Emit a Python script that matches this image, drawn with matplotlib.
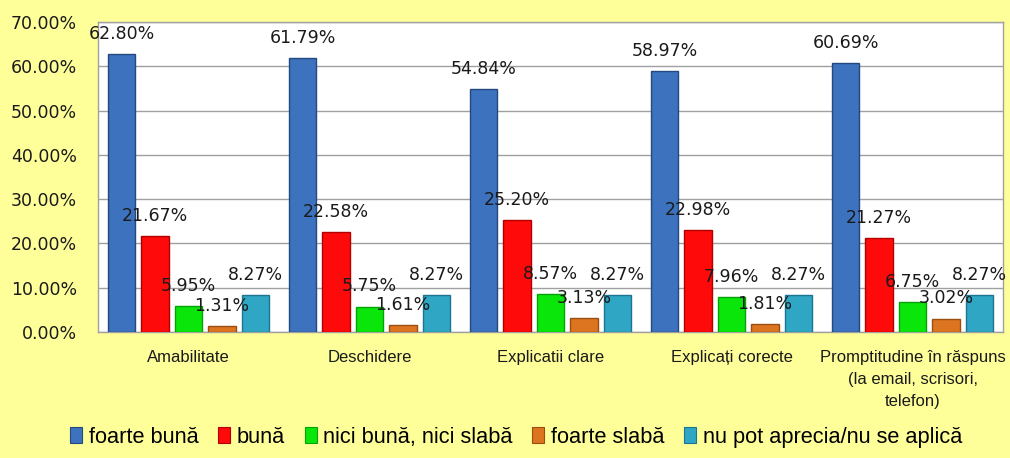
import matplotlib
matplotlib.use("Agg")
import matplotlib.pyplot as plt
import numpy as np
from matplotlib.patches import Patch

categories = ["Amabilitate", "Deschidere", "Explicatii clare", "Explicați corecte",
              "Promptitudine în răspuns\n(la email, scrisori,\ntelefon)"]
series_names = ["foarte bună", "bună", "nici bună, nici slabă", "foarte slabă",
                "nu pot aprecia/nu se aplică"]
foarte_buna = [62.80, 61.79, 54.84, 58.97, 60.69]
buna = [21.67, 22.58, 25.20, 22.98, 21.27]
nici = [5.95, 5.75, 8.57, 7.96, 6.75]
foarte_slaba = [1.31, 1.61, 3.13, 1.81, 3.02]
nu_pot = [8.27, 8.27, 8.27, 8.27, 8.27]
series = [foarte_buna, buna, nici, foarte_slaba, nu_pot]
yticks = [0, 10, 20, 30, 40, 50, 60, 70]

colors = ["#3C72BE", "#FF0A0A", "#0AE60A", "#DD7420", "#2FA6C4"]
edges = ["#24497F", "#B00000", "#08A008", "#9A4E12", "#1C7490"]

bg = "#FFFF99"
fig = plt.figure(figsize=(10.10, 4.58), dpi=100, facecolor=bg)
ax = fig.add_axes([98/1010, 1-332/458, (1003-98)/1010, (332-22)/458])
ax.set_facecolor("white")

x = np.arange(len(categories))
pitch = 0.185
width = 0.15
for i, (vals, c, e) in enumerate(zip(series, colors, edges)):
    pos = x + (i - 2) * pitch
    ax.bar(pos, vals, width, color=c, edgecolor=e, linewidth=1.0, zorder=3)
    for px, v in zip(pos, vals):
        ax.annotate(f"{v:.2f}%", (px, v), xytext=(0, 14.5), textcoords="offset points",
                    ha="center", va="center", fontsize=12.5, color="#1a1a1a",
                    family="DejaVu Sans", zorder=5)

ax.set_xlim(-0.5, len(categories) - 0.5)
ax.set_ylim(0, 70)
ax.set_yticks(yticks)
ax.set_yticklabels([f"{t:.2f}%" for t in yticks], fontsize=12.5, color="#1a1a1a",
                   family="DejaVu Sans")
ax.set_xticks(x)
ax.set_xticklabels(categories, fontsize=12, color="#1a1a1a",
                   family=["Liberation Sans", "DejaVu Sans"], linespacing=1.6)
ax.tick_params(axis="y", length=0, pad=15)
ax.tick_params(axis="x", length=0, pad=13)
ax.grid(axis="y", color="#A0A0A0", linewidth=1.0, zorder=0)
for s in ax.spines.values():
    s.set_color("#A0A0A0")
    s.set_linewidth(1.0)

handles = [Patch(facecolor=c, edgecolor=e, linewidth=0.8) for c, e in zip(colors, edges)]
fig.legend(handles, series_names, loc="center", bbox_to_anchor=(0.511, 0.045), ncol=5,
           frameon=False, prop={"family": "Liberation Sans", "size": 15.7},
           handlelength=0.55, handleheight=0.75, handletextpad=0.3, columnspacing=0.9)

fig.savefig("out.png", dpi=100, facecolor=bg)
